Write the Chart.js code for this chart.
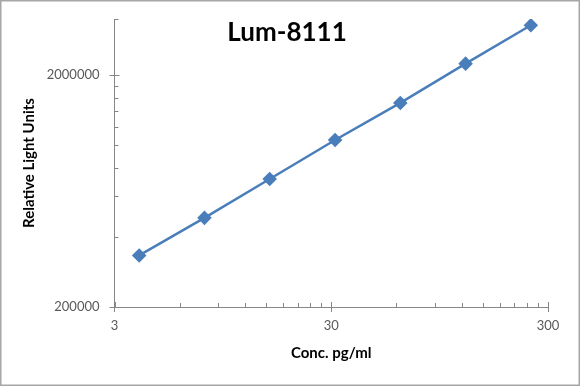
<!DOCTYPE html>
<html>
<head>
<meta charset="utf-8">
<script src="https://cdn.jsdelivr.net/npm/chart.js@4"></script>
<style>
  html, body { margin: 0; padding: 0; background: #fff; }
  canvas { display: block; }
</style>
</head>
<body>
<canvas id="curve" width="580" height="386"></canvas>
<script>
// standard curve data
const concentrations = [3.9, 7.8, 15.6, 31.25, 62.5, 125, 250];
const rlu = [334000, 485000, 714000, 1052000, 1520000, 2246000, 3288000];

// axis ticks (log axes, Excel style)
const xTickValues = [3, 6, 9, 12, 15, 18, 21, 24, 27, 30, 60, 90, 120, 150, 180, 210, 240, 270, 300];
const xTickLabels = [3, 30, 300];
const yTickValues = [200000, 400000, 600000, 800000, 1000000, 1200000, 1400000, 1600000, 1800000, 2000000];
const yTickLabels = [200000, 2000000];

const axisColor = '#868686';
const lineColor = '#4a7ebb';

// draws the tick marks Excel puts inside the plot, plus title and border
const excelLook = {
    id: 'excelLook',
    afterDraw(chart) {
        const ctx = chart.ctx;
        const xs = chart.scales.x, ys = chart.scales.y;
        const area = chart.chartArea;
        ctx.save();
        ctx.strokeStyle = axisColor;
        ctx.lineWidth = 1;
        ctx.beginPath();
        xTickValues.forEach(v => {
            const px = Math.round(xs.getPixelForValue(v)) + 0.5;
            const len = xTickLabels.includes(v) ? 5 : 4;
            ctx.moveTo(px, area.bottom);
            ctx.lineTo(px, area.bottom - len);
        });
        yTickValues.concat([ys.max]).forEach(v => {
            const py = Math.round(ys.getPixelForValue(v)) + 0.5;
            const len = yTickLabels.includes(v) ? 5 : 4;
            ctx.moveTo(area.left, py);
            ctx.lineTo(area.left + len, py);
        });
        ctx.stroke();

        ctx.fillStyle = '#000';
        ctx.font = 'bold 26px Lato';
        ctx.textAlign = 'center';
        ctx.textBaseline = 'alphabetic';
        ctx.fillText('Lum-8111', 287, 41);

        ctx.strokeStyle = '#a6a6a6';
        ctx.lineWidth = 1.5;
        ctx.strokeRect(0.75, 0.75, chart.width - 1.5, chart.height - 1.5);
        ctx.restore();
    }
};

new Chart(document.getElementById('curve').getContext('2d'), {
    type: 'line',
    data: {
        datasets: [{
            label: 'Lum-8111',
            data: concentrations.map((c, i) => ({ x: c, y: rlu[i] })),
            borderColor: lineColor,
            backgroundColor: lineColor,
            borderWidth: 2.5,
            pointStyle: 'rectRot',
            pointRadius: 5.5,
            pointBackgroundColor: lineColor,
            pointBorderColor: lineColor,
            tension: 0,
            fill: false
        }]
    },
    options: {
        responsive: false,
        animation: false,
        devicePixelRatio: 1,
        layout: { padding: { left: 0, right: 32, top: 19, bottom: 0 } },
        plugins: {
            legend: { display: false },
            tooltip: { enabled: false }
        },
        scales: {
            x: {
                type: 'logarithmic',
                min: 3,
                max: 300,
                afterBuildTicks: scale => { scale.ticks = xTickValues.map(v => ({ value: v })); },
                afterFit: scale => { scale.height = 79; },
                border: { color: axisColor, width: 1 },
                grid: {
                    drawOnChartArea: false,
                    drawTicks: true,
                    tickLength: 5,
                    tickColor: c => xTickLabels.includes(c.tick && c.tick.value) ? axisColor : 'rgba(0,0,0,0)'
                },
                ticks: {
                    autoSkip: false,
                    maxRotation: 0,
                    padding: 6,
                    color: '#595959',
                    font: { family: 'Lato', size: 13 },
                    callback: v => xTickLabels.includes(v) ? String(v) : ''
                },
                title: {
                    display: true,
                    text: 'Conc. pg/ml',
                    color: '#000',
                    font: { family: 'Lato', size: 15, weight: 'bold' },
                    padding: { top: 0, bottom: 24 }
                }
            },
            y: {
                type: 'logarithmic',
                min: 200000,
                max: 3500000,
                afterBuildTicks: scale => { scale.ticks = yTickValues.map(v => ({ value: v })); },
                afterFit: scale => { scale.width = 114.5; },
                border: { color: axisColor, width: 1 },
                grid: {
                    drawOnChartArea: false,
                    drawTicks: true,
                    tickLength: 5,
                    tickColor: c => yTickLabels.includes(c.tick && c.tick.value) ? axisColor : 'rgba(0,0,0,0)'
                },
                ticks: {
                    autoSkip: false,
                    padding: 10,
                    color: '#595959',
                    font: { family: 'Lato', size: 13 },
                    callback: v => yTickLabels.includes(v) ? String(v) : ''
                },
                title: {
                    display: true,
                    text: 'Relative Light Units',
                    color: '#000',
                    font: { family: 'Lato', size: 15, weight: 'bold' },
                    padding: { top: 20, bottom: 0 }
                }
            }
        }
    },
    plugins: [excelLook]
});
</script>
</body>
</html>
